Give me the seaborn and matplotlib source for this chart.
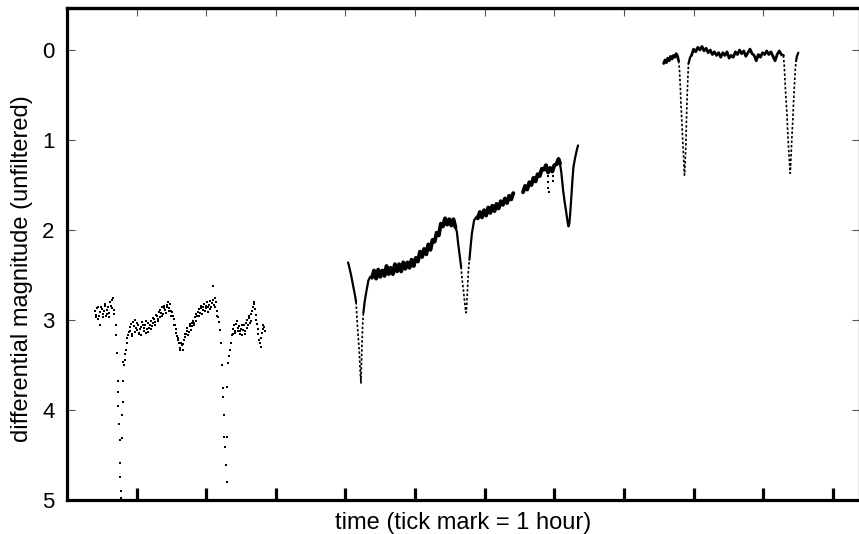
import numpy as np
import pandas as pd
import matplotlib
matplotlib.use("Agg")
import matplotlib.pyplot as plt
import seaborn as sns

# ---------------- data (time in hours, differential magnitude) ----------------
# night 1 : scattered photometry (dots), two interleaved sets of readings
n1_t = [0.40, 0.42, 0.44, 0.46, 0.48, 0.50, 0.52, 0.54, 0.56, 0.58, 0.60, 0.62, 0.64, 0.66, 0.68,
        0.90, 0.92, 0.94, 0.96, 0.98, 1.00, 1.02, 1.04, 1.06, 1.08, 1.10, 1.12, 1.14, 1.16, 1.18, 1.20,
        1.22, 1.24, 1.26, 1.28, 1.30, 1.32, 1.34, 1.36, 1.38, 1.40, 1.42, 1.44, 1.46, 1.48, 1.50,
        1.52, 1.54, 1.56, 1.58, 1.60, 1.62, 1.64, 1.66, 1.68, 1.70, 1.72, 1.74, 1.76, 1.78, 1.80,
        1.82, 1.84, 1.86, 1.88, 1.90, 1.92, 1.94, 1.96, 1.98, 2.00, 2.02, 2.04, 2.06, 2.08, 2.10,
        2.12, 2.14, 2.16, 2.18,
        2.38, 2.40, 2.42, 2.44, 2.46, 2.48, 2.50, 2.52, 2.54, 2.56, 2.58, 2.60, 2.62, 2.64, 2.66,
        2.68, 2.70, 2.72, 2.74, 2.76, 2.78, 2.80, 2.82, 2.84]
n1_m = [2.90, 2.97, 2.86, 2.95, 3.05, 2.88, 2.93, 2.84, 2.96, 2.89, 2.92, 2.80, 2.87, 2.76, 2.93,
        3.12, 3.04, 3.15, 3.07, 3.00, 3.11, 3.05, 3.16, 3.08, 3.02, 3.12, 3.06, 3.14, 3.03, 3.09, 3.01,
        3.07, 2.98, 3.05, 2.94, 3.01, 2.91, 2.97, 2.86, 2.93, 2.84, 2.92, 2.83, 2.90, 2.82, 2.95,
        2.96, 3.05, 3.10, 3.18, 3.22, 3.31, 3.26, 3.33, 3.22, 3.19, 3.12, 3.17, 3.07, 3.11, 3.03,
        3.06, 2.97, 3.01, 2.91, 2.96, 2.87, 2.93, 2.85, 2.90, 2.84, 2.91, 2.83, 2.88, 2.81, 2.62,
        2.86, 2.80, 2.95, 3.02,
        3.15, 3.06, 3.12, 3.01, 3.09, 3.16, 3.10, 3.17, 3.05, 3.12, 3.00, 3.06, 2.95, 3.01, 2.90,
        2.80, 2.88, 3.00, 3.10, 3.22, 3.30, 3.14, 3.05, 3.12]
n1b_t = [0.41, 0.43, 0.45, 0.47, 0.49, 0.51, 0.53, 0.55, 0.57, 0.59, 0.61, 0.63, 0.65, 0.67,
         0.91, 0.93, 0.95, 0.97, 0.99, 1.01, 1.03, 1.05, 1.07, 1.09, 1.11, 1.13, 1.15, 1.17, 1.19,
         1.21, 1.23, 1.25, 1.27, 1.29, 1.31, 1.33, 1.35, 1.37, 1.39, 1.41, 1.43, 1.45, 1.47, 1.49,
         1.51, 1.53, 1.55, 1.57, 1.59, 1.61, 1.63, 1.65, 1.67, 1.69, 1.71, 1.73, 1.75, 1.77, 1.79,
         1.81, 1.83, 1.85, 1.87, 1.89, 1.91, 1.93, 1.95, 1.97, 1.99, 2.01, 2.03, 2.05, 2.07, 2.09,
         2.11, 2.13, 2.15, 2.17,
         2.39, 2.41, 2.43, 2.45, 2.47, 2.49, 2.51, 2.53, 2.55, 2.57, 2.59, 2.61, 2.63, 2.65, 2.67,
         2.69, 2.71, 2.73, 2.75, 2.77, 2.79, 2.81, 2.83]
n1b_m = [2.94, 2.87, 2.99, 2.91, 2.85, 2.97, 2.90, 2.82, 2.93, 2.86, 2.97, 2.84, 2.78, 2.89,
         3.08, 3.18, 3.02, 3.13, 3.09, 3.03, 3.14, 3.10, 3.17, 3.06, 3.09, 3.01, 3.10, 3.13, 3.05,
         3.10, 3.03, 2.99, 3.02, 2.96, 2.99, 2.89, 2.92, 2.95, 2.87, 2.89, 2.86, 2.80, 2.87, 2.90,
         2.91, 2.99, 3.06, 3.14, 3.20, 3.26, 3.33, 3.28, 3.27, 3.15, 3.16, 3.09, 3.13, 3.04, 3.07,
         3.01, 3.03, 2.93, 2.96, 2.88, 2.92, 2.84, 2.89, 2.82, 2.87, 2.80, 2.86, 2.79, 2.85, 2.78,
         2.83, 2.76, 2.90, 2.97,
         3.10, 3.14, 3.04, 3.12, 3.07, 3.12, 3.06, 3.11, 3.15, 3.03, 3.09, 2.98, 3.03, 2.93, 2.86,
         2.82, 2.94, 3.04, 3.16, 3.26, 3.20, 3.10, 3.08]
# night 1 eclipses (sparse dots)
n1e_t = [0.700, 0.704, 0.714, 0.728, 0.730, 0.733, 0.747, 0.755, 0.762, 0.768, 0.772, 0.776,
         0.786, 0.795, 0.800, 0.803, 0.809, 0.820, 0.833, 0.840, 0.848, 0.858, 0.867, 0.880, 0.895,
         2.200, 2.210, 2.223, 2.237, 2.246, 2.250, 2.260, 2.270, 2.284, 2.295, 2.300, 2.305, 2.318,
         2.330, 2.342, 2.356, 2.371]
n1e_m = [3.05, 3.17, 3.37, 3.68, 3.80, 3.95, 4.15, 4.33, 4.59, 4.74, 4.90, 4.98,
         4.31, 4.05, 3.91, 3.68, 3.47, 3.50, 3.44, 3.38, 3.33, 3.26, 3.20, 3.17, 3.13,
         3.11, 3.26, 3.50, 3.75, 3.86, 4.05, 4.30, 4.41, 4.61, 4.80, 4.30, 3.74, 3.48,
         3.40, 3.33, 3.26, 3.17]

# night 2 : dense photometry (bands = noisy continuum, walls = eclipse branches)
n2_band1_t = [4.38, 4.41, 4.44, 4.47, 4.50, 4.53, 4.56, 4.59, 4.62, 4.65, 4.68, 4.71, 4.74, 4.77,
              4.80, 4.83, 4.86, 4.89, 4.92, 4.95, 4.98, 5.01, 5.04, 5.07, 5.10, 5.13, 5.16, 5.19,
              5.22, 5.25, 5.28, 5.31, 5.34, 5.37, 5.40, 5.43, 5.46, 5.49, 5.52, 5.55, 5.58]
n2_band1_m = [2.53, 2.45, 2.54, 2.44, 2.52, 2.45, 2.51, 2.40, 2.49, 2.42, 2.49, 2.38, 2.46, 2.38,
              2.46, 2.36, 2.43, 2.36, 2.42, 2.33, 2.40, 2.31, 2.35, 2.24, 2.30, 2.21, 2.27, 2.16,
              2.22, 2.11, 2.13, 2.03, 2.06, 1.93, 1.96, 1.87, 1.94, 1.88, 1.95, 1.88, 1.97]
n2_band2_t = [5.90, 5.93, 5.96, 5.99, 6.02, 6.05, 6.08, 6.11, 6.14, 6.17, 6.20, 6.23, 6.26, 6.29,
              6.32, 6.35, 6.38, 6.41]
n2_band2_m = [1.87, 1.80, 1.86, 1.78, 1.84, 1.75, 1.81, 1.73, 1.79, 1.71, 1.76, 1.68, 1.72, 1.65,
              1.70, 1.62, 1.66, 1.59]
n2_band3_t = [6.55, 6.58, 6.61, 6.64, 6.67, 6.70, 6.73, 6.76, 6.79, 6.82, 6.85, 6.88, 6.91, 6.94,
              6.97, 7.00, 7.03, 7.06, 7.08]
n2_band3_m = [1.58, 1.51, 1.55, 1.47, 1.50, 1.42, 1.46, 1.38, 1.40, 1.32, 1.33, 1.28, 1.36, 1.31,
              1.35, 1.28, 1.27, 1.21, 1.26]
n2_thin_t = [[4.037, 4.06, 4.08, 4.10, 4.12, 4.14, 4.152],
             [4.257, 4.275, 4.296, 4.329, 4.355, 4.38],
             [5.58, 5.60, 5.618, 5.64, 5.661],
             [5.78, 5.80, 5.815, 5.848, 5.886, 5.90],
             [7.08, 7.10, 7.126, 7.15, 7.17, 7.19, 7.203, 7.215, 7.227, 7.24, 7.25, 7.262, 7.274,
              7.30, 7.323, 7.34]]
n2_thin_m = [[2.36, 2.43, 2.50, 2.58, 2.66, 2.74, 2.80],
             [2.92, 2.80, 2.70, 2.56, 2.52, 2.53],
             [1.97, 2.02, 2.15, 2.28, 2.41],
             [2.33, 2.16, 2.04, 1.89, 1.85, 1.87],
             [1.26, 1.36, 1.56, 1.70, 1.80, 1.91, 1.96, 1.93, 1.82, 1.68, 1.56, 1.42, 1.30,
              1.19, 1.11, 1.06]]
n2_wall_t = [[4.152, 4.171, 4.186, 4.200, 4.210, 4.222, 4.234, 4.245, 4.257],
             [5.661, 5.675, 5.694, 5.718, 5.733, 5.745, 5.755, 5.765, 5.780]]
n2_wall_m = [[2.80, 3.06, 3.22, 3.38, 3.55, 3.70, 3.36, 3.08, 2.92],
             [2.41, 2.55, 2.67, 2.85, 2.92, 2.78, 2.62, 2.45, 2.33]]
n2_dots_t = [6.910, 6.912, 6.914, 6.916, 6.983, 6.985]
n2_dots_m = [1.40, 1.47, 1.53, 1.58, 1.40, 1.45]

# night 3
n3_band1_t = [8.57, 8.59, 8.61, 8.63, 8.65, 8.67, 8.69, 8.71, 8.73, 8.75, 8.77, 8.785]
n3_band1_m = [0.15, 0.11, 0.14, 0.09, 0.12, 0.07, 0.10, 0.06, 0.08, 0.04, 0.07, 0.12]
n3_band2_t = [8.97, 9.00, 9.03, 9.06, 9.09, 9.12, 9.15, 9.18, 9.21, 9.24, 9.27, 9.30, 9.33, 9.36,
              9.39, 9.42, 9.45, 9.48, 9.51, 9.54, 9.57, 9.60, 9.63, 9.66, 9.69, 9.72, 9.75, 9.78,
              9.81, 9.84, 9.87, 9.90, 9.93, 9.96, 9.99, 10.02, 10.05, 10.08, 10.11, 10.14, 10.17,
              10.20, 10.23, 10.26, 10.29]
n3_band2_m = [0.06, -0.01, 0.02, -0.03, 0.00, -0.04, 0.01, -0.02, 0.03, 0.00, 0.05, 0.02, 0.06,
              0.03, 0.08, 0.03, 0.06, 0.02, 0.09, 0.06, 0.08, 0.02, 0.05, 0.00, 0.04, 0.01, 0.07,
              0.03, -0.01, 0.04, 0.06, 0.12, 0.05, 0.08, 0.03, 0.05, 0.01, 0.05, 0.02, 0.07, 0.12,
              0.05, 0.01, 0.05, 0.06]
n3_thin_t = [[8.927, 8.95, 8.97], [10.472, 10.484, 10.504]]
n3_thin_m = [[0.15, 0.08, 0.06], [0.12, 0.07, 0.03]]
n3_wall_t = [[8.785, 8.797, 8.810, 8.818, 8.830, 8.841, 8.855, 8.869, 8.879, 8.889, 8.897, 8.904,
              8.915, 8.927],
             [10.29, 10.302, 10.32, 10.34, 10.35, 10.363, 10.375, 10.388, 10.40, 10.412, 10.425,
              10.435, 10.448, 10.46, 10.472]]
n3_wall_m = [[0.12, 0.22, 0.42, 0.59, 0.78, 0.96, 1.18, 1.39, 1.25, 1.05, 0.80, 0.59, 0.35, 0.15],
             [0.06, 0.17, 0.45, 0.70, 0.88, 1.07, 1.22, 1.37, 1.18, 0.96, 0.78, 0.59, 0.40, 0.22,
              0.12]]

y_ticks = [0, 1, 2, 3, 4, 5]
x_ticks = [1, 2, 3, 4, 5, 6, 7, 8, 9, 10, 11]
x_label = "time (tick mark = 1 hour)"
y_label = "differential magnitude (unfiltered)"

# ---------------- plotting ----------------
sns.set_theme(style="white")
plt.rcParams["font.family"] = ["Liberation Sans", "DejaVu Sans"]
plt.rcParams["text.color"] = "black"
plt.rcParams["axes.labelcolor"] = "black"
plt.rcParams["ytick.labelcolor"] = "black"

fig = plt.figure(figsize=(8.59, 5.34), dpi=100)
ax = fig.add_axes([67 / 859, 34 / 534, 793 / 859, 492 / 534])


def line(ts, ms, lw, dashes=None):
    df = pd.DataFrame({"t": ts, "m": ms})
    sns.lineplot(data=df, x="t", y="m", ax=ax, color="black", lw=lw, sort=False,
                 estimator=None, solid_capstyle="round")
    if dashes is not None:
        ax.lines[-1].set_dashes(dashes)


def dots(ts, ms, s):
    df = pd.DataFrame({"t": ts, "m": ms})
    sns.scatterplot(data=df, x="t", y="m", ax=ax, color="black", s=s, linewidth=0,
                    marker="s")


# night 1
dots(n1_t, n1_m, 3.5)
dots(n1b_t, n1b_m, 3.5)
dots(n1e_t, n1e_m, 3)

# night 2
for bt, bm in [(n2_band1_t, n2_band1_m), (n2_band2_t, n2_band2_m), (n2_band3_t, n2_band3_m)]:
    line(bt, bm, 2.8)
for tt, mm in zip(n2_thin_t, n2_thin_m):
    line(tt, mm, 1.6)
for tt, mm in zip(n2_wall_t, n2_wall_m):
    line(tt, mm, 1.2, dashes=(1.5, 1.2))
dots(n2_dots_t, n2_dots_m, 3)

# night 3
line(n3_band1_t, n3_band1_m, 2.0)
line(n3_band2_t, n3_band2_m, 2.0)
for tt, mm in zip(n3_thin_t, n3_thin_m):
    line(tt, mm, 1.6)
for tt, mm in zip(n3_wall_t, n3_wall_m):
    line(tt, mm, 1.2, dashes=(1.5, 1.2))

ax.set_xlim(0, 11.39)
ax.set_ylim(5, -0.467)
ax.set_yticks(y_ticks)
ax.set_xticks(x_ticks)
ax.set_xticklabels([])
ax.set_xlabel(x_label, fontsize=17, labelpad=5, color="black")
ax.set_ylabel(y_label, fontsize=17, color="black")
ax.yaxis.set_label_coords(-0.043, 0.47)

for side in ["left", "top", "bottom", "right"]:
    ax.spines[side].set_visible(True)
    ax.spines[side].set_color("black")
    ax.spines[side].set_linewidth(2.3)

ax.tick_params(axis="y", which="major", direction="in", left=True, right=True, length=6,
               width=0.8, color="#555555", labelsize=16, pad=9, labelcolor="black")
ax.tick_params(axis="x", which="major", direction="in", bottom=True, top=False, length=9,
               width=2.3, color="black")

sec = ax.secondary_xaxis("top")
sec.set_xticks(x_ticks)
sec.set_xticklabels([])
sec.tick_params(direction="in", length=6, width=0.8, color="#555555")
sec.spines["top"].set_linewidth(2.3)

fig.savefig("out.png", dpi=100, facecolor="white")
